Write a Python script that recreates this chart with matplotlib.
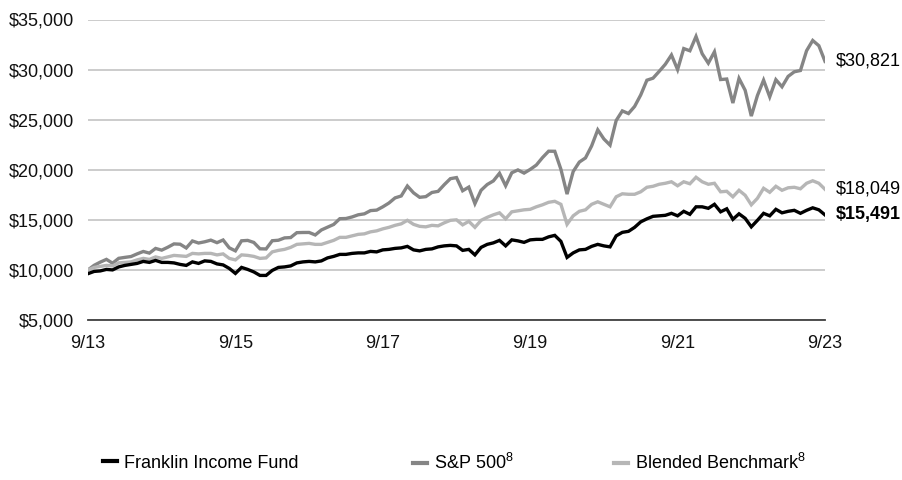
"""
Growth of $10,000 — Franklin Income Fund vs S&P 500 vs Blended Benchmark
"""

import matplotlib
matplotlib.use("Agg")
import matplotlib.pyplot as plt
from matplotlib.lines import Line2D
import numpy as np

# ── data (monthly, 9/13 .. 9/23) ─────────────────────────────────────────────
fund = [
    9625, 9850, 9900, 10050, 10000, 10300, 10450, 10550, 10650, 10850, 10750, 10950,
    10750, 10750, 10700, 10550, 10450, 10800, 10650, 10900, 10850, 10600, 10500, 10150,
    9650, 10250, 10050, 9800, 9450, 9450, 9950, 10250, 10300, 10400, 10700, 10800,
    10850, 10800, 10900, 11200, 11350, 11550, 11550, 11650, 11700, 11700, 11850, 11800,
    12000, 12050, 12150, 12200, 12350, 12000, 11900, 12050, 12100, 12300, 12400, 12450,
    12400, 11950, 12050, 11500, 12250, 12550, 12700, 12950, 12400, 13000, 12900, 12750,
    13000, 13050, 13050, 13300, 13450, 12850, 11250, 11700, 12000, 12050, 12350, 12550,
    12400, 12300, 13400, 13750, 13850, 14250, 14800, 15100, 15350, 15400, 15450, 15650,
    15400, 15850, 15550, 16300, 16300, 16150, 16550, 15800, 16100, 15050, 15600, 15150,
    14300, 14950, 15650, 15400, 16050, 15700, 15850, 15950, 15650, 15950, 16200, 16000,
    15491,
]

sp500 = [
    10000, 10460, 10779, 11052, 10670, 11158, 11252, 11335, 11601, 11841, 11678, 12145,
    11975, 12267, 12597, 12566, 12189, 12890, 12686, 12808, 12973, 12721, 12988, 12205,
    11903, 12907, 12946, 12741, 12109, 12093, 12913, 12963, 13196, 13230, 13718, 13737,
    13740, 13490, 13989, 14266, 14537, 15114, 15132, 15288, 15503, 15599, 15921, 15970,
    16299, 16679, 17191, 17382, 18376, 17698, 17249, 17315, 17732, 17842, 18506, 19109,
    19218, 17903, 18268, 16618, 17949, 18525, 18884, 19649, 18401, 19698, 19982, 19666,
    20034, 20469, 21212, 21852, 21843, 20046, 17570, 19823, 20767, 21180, 22375, 23983,
    23072, 22458, 24917, 25874, 25613, 26320, 27472, 28939, 29142, 29821, 30531, 31459,
    29996, 32099, 31878, 33306, 31584, 30640, 31776, 29006, 29058, 26661, 29119, 27931,
    25359, 27413, 28945, 27277, 28991, 28284, 29322, 29779, 29907, 31884, 32907, 32383,
    30821,
]

blended = [
    10000, 10250, 10350, 10450, 10400, 10700, 10750, 10800, 11000, 11150, 11050, 11300,
    11150, 11300, 11450, 11400, 11350, 11650, 11600, 11650, 11650, 11500, 11600, 11150,
    11000, 11500, 11450, 11350, 11150, 11200, 11800, 11950, 12050, 12250, 12550, 12600,
    12650, 12550, 12550, 12750, 12950, 13250, 13250, 13400, 13550, 13600, 13800, 13900,
    14100, 14250, 14450, 14600, 14950, 14550, 14350, 14300, 14450, 14400, 14700, 14950,
    15000, 14500, 14850, 14250, 14950, 15250, 15500, 15700, 15100, 15800, 15900, 16000,
    16050, 16300, 16500, 16750, 16850, 16550, 14550, 15400, 15850, 16000, 16550, 16800,
    16550, 16300, 17300, 17600, 17550, 17550, 17800, 18250, 18350, 18550, 18650, 18800,
    18400, 18800, 18600, 19250, 18800, 18550, 18650, 17800, 17850, 17300, 17950, 17450,
    16500, 17150, 18150, 17750, 18350, 17950, 18200, 18250, 18100, 18650, 18900, 18650,
    18049,
]

series_names = ["Franklin Income Fund", "S&P 500$^{8}$", "Blended Benchmark$^{8}$"]
end_labels = ["$15,491", "$30,821", "$18,049"]
x_tick_labels = ["9/13", "9/15", "9/17", "9/19", "9/21", "9/23"]
y_ticks = [5000, 10000, 15000, 20000, 25000, 30000, 35000]

# ── style ─────────────────────────────────────────────────────────────────────
BLACK = "#000000"
DARK = "#858585"
LIGHT = "#b6b6b6"
GRID = "#c4c4c4"
FS = 13

plt.rcParams.update({
    "font.family": ["Liberation Sans", "DejaVu Sans"],
    "mathtext.fontset": "custom",
    "mathtext.rm": "Liberation Sans",
    "mathtext.it": "Liberation Sans",
    "mathtext.bf": "Liberation Sans:bold",
})

months = np.arange(len(fund))

fig = plt.figure(figsize=(9.02, 4.80), dpi=100)
ax = fig.add_axes([88 / 902, 1 - 320 / 480, (825 - 88) / 902, (320 - 19.5) / 480])

ax.plot(months, sp500, color=DARK, lw=2.4, zorder=3, solid_joinstyle="miter")
ax.plot(months, blended, color=LIGHT, lw=2.4, zorder=3, solid_joinstyle="miter")
ax.plot(months, fund, color=BLACK, lw=2.4, zorder=4, solid_joinstyle="miter")

ax.set_xlim(0, len(fund) - 1)
ax.set_ylim(5000, 35000)
ax.set_yticks(y_ticks)
ax.set_yticklabels([f"${v:,}" for v in y_ticks])
ax.set_xticks(np.arange(0, len(fund), 24))
ax.set_xticklabels(x_tick_labels)
ax.tick_params(axis="both", length=0, labelsize=FS, colors="#111111")
ax.tick_params(axis="y", pad=10)
ax.tick_params(axis="x", pad=11)

ax.grid(axis="y", color=GRID, lw=1.2)
ax.set_axisbelow(True)
for side in ["top", "right", "left"]:
    ax.spines[side].set_visible(False)
ax.spines["bottom"].set_color("#404040")
ax.spines["bottom"].set_linewidth(1.3)

# end-value labels
last = len(fund) - 1
for vals, lab, bold in [(fund, end_labels[0], True),
                        (sp500, end_labels[1], False),
                        (blended, end_labels[2], False)]:
    ax.annotate(lab.replace("$", r"\$"), xy=(last, vals[-1]), xytext=(8, 0),
                textcoords="offset points", ha="left", va="center", fontsize=FS,
                fontweight="bold" if bold else "normal", annotation_clip=False)

# legend, three fixed slots along the bottom
colors = [BLACK, DARK, LIGHT]
slots = [103, 413, 614]
for name, col, xs in zip(series_names, colors, slots):
    h = Line2D([], [], color=col, lw=3)
    fig.legend(handles=[h], labels=[name], loc="center left",
               bbox_to_anchor=(xs / 902, 1 - 463 / 480), frameon=False,
               fontsize=FS, handlelength=0.8, handletextpad=0.35,
               borderpad=0, borderaxespad=0)

fig.savefig("out.png", dpi=100)
plt.close(fig)
print("Saved: out.png")
